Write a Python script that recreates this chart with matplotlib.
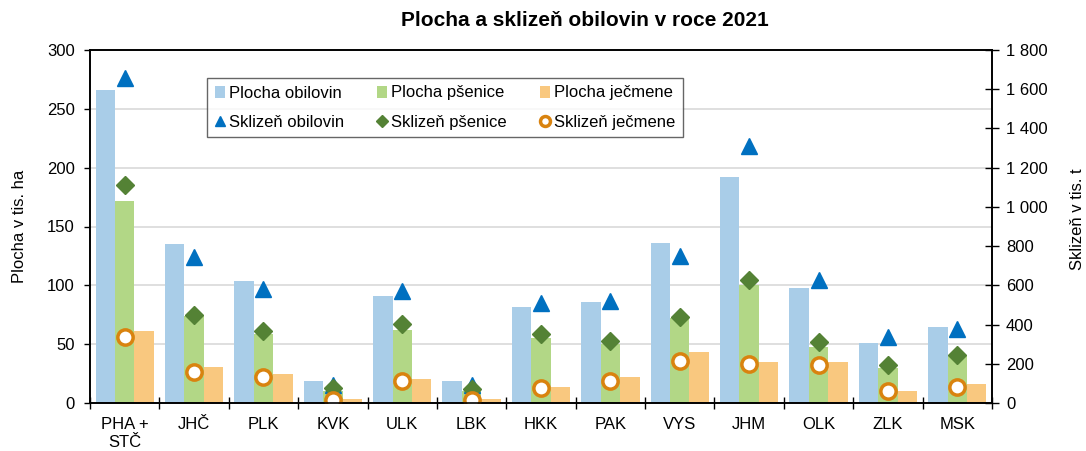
import numpy as np
import matplotlib.pyplot as plt

plt.rcParams['font.family'] = ['Liberation Sans', 'DejaVu Sans']

kraje = ["PHA +\nSTČ", "JHČ", "PLK", "KVK", "ULK", "LBK", "HKK", "PAK", "VYS", "JHM", "OLK", "ZLK", "MSK"]

# plocha v tis. ha
plocha_obil = [266, 135, 104, 19, 91, 19, 82, 86, 136, 192, 98, 51, 65]
plocha_psen = [172, 74, 59, 10, 62, 10, 55, 50, 72, 100, 48, 30, 40]
plocha_jecm = [61, 31, 25, 3, 20, 3, 14, 22, 43, 35, 35, 10, 16]

# sklizen v tis. t
skliz_obil = [1657, 747, 581, 90, 569, 90, 510, 522, 748, 1310, 625, 334, 377]
skliz_psen = [1110, 450, 368, 75, 404, 70, 353, 314, 436, 625, 310, 194, 245]
skliz_jecm = [337, 160, 133, 15, 114, 15, 78, 114, 215, 198, 194, 61, 83]

fs = 12

fig = plt.figure(figsize=(10.86, 4.51), dpi=100)
ax = fig.add_axes([90/1086, 48/451, 902/1086, 353/451])
ax2 = ax.twinx()

x = np.arange(len(kraje))
w = 0.28
b1 = ax.bar(x - w, plocha_obil, w, color='#A9CDE8', label='Plocha obilovin', zorder=2)
b2 = ax.bar(x, plocha_psen, w, color='#B2D786', label='Plocha pšenice', zorder=2)
b3 = ax.bar(x + w, plocha_jecm, w, color='#F9C87F', label='Plocha ječmene', zorder=2)

m1, = ax2.plot(x, skliz_obil, ls='none', marker='^', ms=12, color='#0070C0', label='Sklizeň obilovin')
m2, = ax2.plot(x, skliz_psen, ls='none', marker='D', ms=9, color='#548235', label='Sklizeň pšenice')
m3, = ax2.plot(x, skliz_jecm, ls='none', marker='o', ms=11, mfc='white', mec='#D9830F', mew=2.5,
               label='Sklizeň ječmene')

ax.set_xlim(-0.5, len(kraje) - 0.5)
ax.set_ylim(0, 300)
ax2.set_ylim(0, 1800)
ax.set_yticks(np.arange(0, 301, 50))
ax2.set_yticks(np.arange(0, 1801, 200))
ax2.set_yticklabels([f"{v:,}".replace(",", " ") for v in range(0, 1801, 200)])
ax.yaxis.grid(True, color='#D9D9D9', lw=1.2, zorder=0)
ax.set_axisbelow(True)

ax.set_xticks(x)
ax.set_xticklabels(kraje, linespacing=1.3)
ax.tick_params(axis='x', length=0, labelsize=fs, pad=10)
ax.set_xticks(np.arange(-0.5, len(kraje), 1), minor=True)
ax.tick_params(axis='x', which='minor', direction='inout', length=9, width=1)
ax.tick_params(axis='y', direction='out', length=4, width=1, labelsize=fs, pad=7)
ax2.tick_params(axis='y', direction='inout', length=10, width=1, labelsize=fs, pad=5)

for a in (ax, ax2):
    for s in a.spines.values():
        s.set_linewidth(1.2)

ax.set_ylabel("Plocha v tis. ha", fontsize=fs)
ax.yaxis.set_label_coords((27 - 90) / 902, 0.5)
ax2.set_ylabel("Sklizeň v tis. t", fontsize=fs)
ax2.yaxis.set_label_coords((1070 - 90) / 902, 0.52)
fig.text(585/1086, 1 - 20/451, "Plocha a sklizeň obilovin v roce 2021", ha='center', va='center',
         fontsize=15, fontweight='bold')

hs = [b1, m1, b2, m2, b3, m3]
leg = ax2.legend(hs, [h.get_label() for h in hs],
                 ncol=3, loc='upper left', bbox_to_anchor=((207 - 90) / 902, 1 - 28 / 353),
                 fontsize=fs, frameon=True, fancybox=False, edgecolor='#404040',
                 handlelength=0.6, handletextpad=0.25, columnspacing=2.0, labelspacing=0.85,
                 borderpad=0.45, borderaxespad=0, markerscale=0.65)
leg.get_frame().set_linewidth(1.0)

fig.savefig("out.png", dpi=100)
